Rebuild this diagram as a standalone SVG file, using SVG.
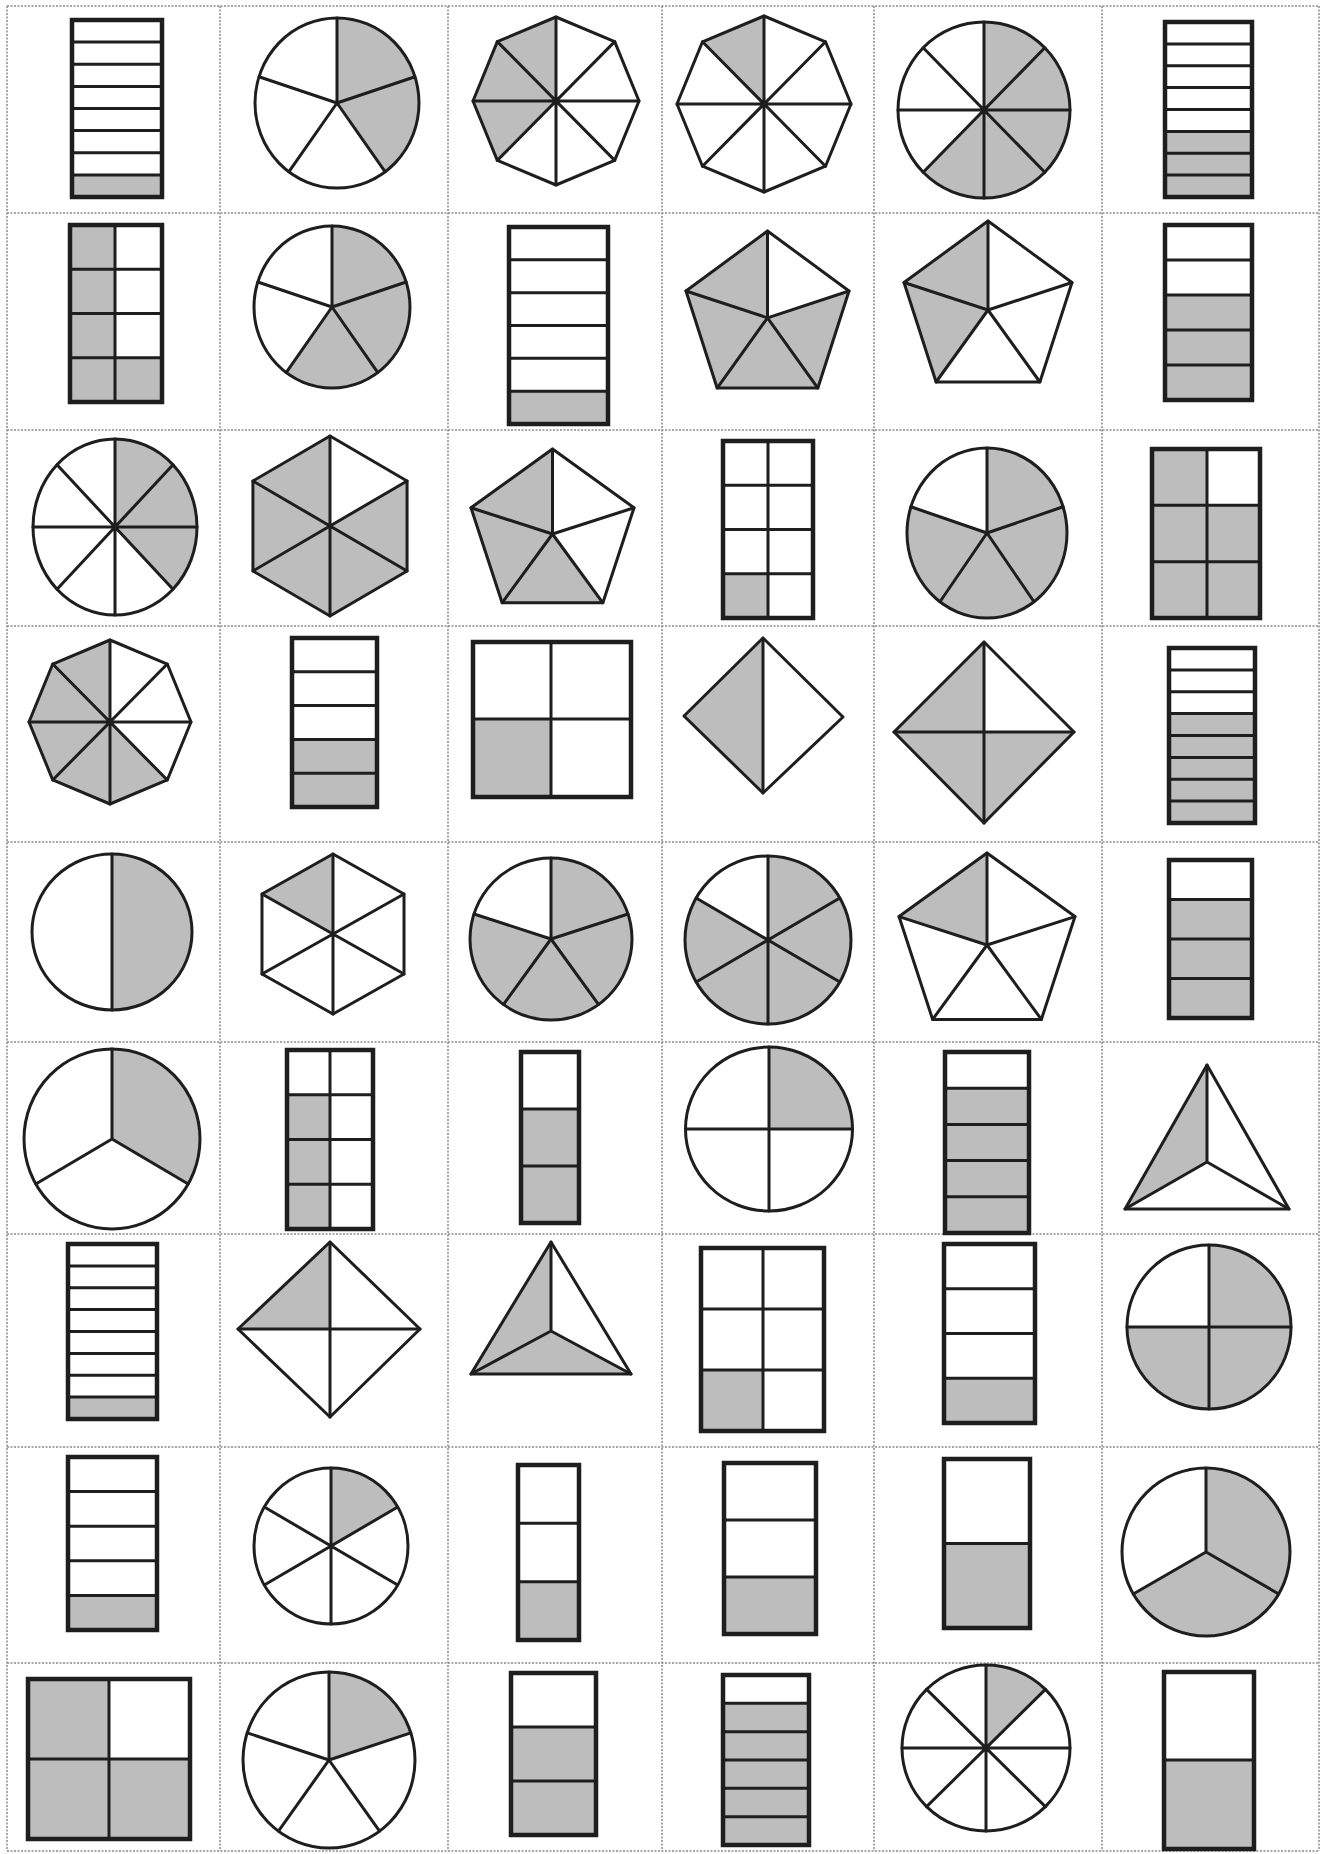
<svg xmlns="http://www.w3.org/2000/svg" xmlns:xlink="http://www.w3.org/1999/xlink" width="1324" height="1854" viewBox="0 0 1324 1854">
<style>
.g{fill:#bdbdbd;stroke:none}
.o{fill:none;stroke:#1e1e1e;stroke-width:3;stroke-linejoin:round;stroke-linecap:round}
.n{vector-effect:non-scaling-stroke}
.b{fill:none;stroke:#1e1e1e;stroke-width:4.5;stroke-linejoin:miter}
.grid{fill:none;stroke:#8c8c8c;stroke-width:1.5;stroke-dasharray:2 1.5}
</style>
<defs>
<circle id="cir" class="o n" r="100"/>
<path id="r8" class="o n" d="M0,-100V100M-100,0H100M-70.71,-70.71L70.71,70.71M70.71,-70.71L-70.71,70.71"/>
<path id="r5" class="o n" d="M0,0V-100M0,0L95.11,-30.9M0,0L58.78,80.9M0,0L-58.78,80.9M0,0L-95.11,-30.9"/>
<path id="r6" class="o n" d="M0,-100V100M-86.6,-50L86.6,50M86.6,-50L-86.6,50"/>
<path id="r3" class="o n" d="M0,0V-100M0,0L86.6,50M0,0L-86.6,50"/>
<path id="r4" class="o n" d="M0,-100V100M-100,0H100"/>
<polygon id="pen" class="o n" points="0,-100 95.11,-30.9 58.78,80.9 -58.78,80.9 -95.11,-30.9"/>
<polygon id="hex" class="o n" points="0,-100 86.6,-50 86.6,50 0,100 -86.6,50 -86.6,-50"/>
<polygon id="oct" class="o n" points="0,-100 70.71,-70.71 100,0 70.71,70.71 0,100 -70.71,70.71 -100,0 -70.71,-70.71"/>
</defs>
<rect width="1324" height="1854" fill="#ffffff"/>
<g id="grid" class="grid">
<path d="M7,6V1851M220,6V1851M448,6V1851M662,6V1851M874,6V1851M1102,6V1851M1319,6V1851"/>
<path d="M7,6H1319M7,213H1319M7,430H1319M7,626H1319M7,842H1319M7,1042H1319M7,1234H1319M7,1447H1319M7,1663H1319M7,1851H1319"/>
</g>

<!-- Row 1 -->
<g id="c11">
<rect class="g" x="72" y="174.9" width="90" height="22.1"/>
<path class="o" d="M72,42.1H162M72,64.3H162M72,86.4H162M72,108.5H162M72,130.6H162M72,152.8H162M72,174.9H162"/>
<rect class="b" x="72" y="20" width="90" height="177"/>
</g>
<g id="c12" transform="translate(337,103) scale(0.82,0.85)">
<path class="g" d="M0,0V-100A100,100 0 0 1 58.78,80.9Z"/>
<use href="#cir"/><use href="#r5"/>
</g>
<g id="c13" transform="translate(556,101) scale(0.83,0.84)">
<polygon class="g" points="0,0 0,-100 -70.71,-70.71 -100,0 -70.71,70.71"/>
<use href="#oct"/><use href="#r8"/>
</g>
<g id="c14" transform="translate(764,104) scale(0.87,0.88)">
<polygon class="g" points="0,0 0,-100 -70.71,-70.71"/>
<use href="#oct"/><use href="#r8"/>
</g>
<g id="c15" transform="translate(984,110) scale(0.86,0.88)">
<path class="g" d="M0,0V-100A100,100 0 1 1 -70.71,70.71Z"/>
<use href="#cir"/><use href="#r8"/>
</g>
<g id="c16">
<rect class="g" x="1165" y="131.4" width="87" height="65.6"/>
<path class="o" d="M1165,43.9H1252M1165,65.75H1252M1165,87.6H1252M1165,109.5H1252M1165,131.4H1252M1165,153.25H1252M1165,175.1H1252"/>
<rect class="b" x="1165" y="22" width="87" height="175"/>
</g>

<!-- Row 2 -->
<g id="c21">
<rect class="g" x="70" y="225" width="45" height="177"/>
<rect class="g" x="115" y="357.75" width="47" height="44.25"/>
<path class="o" d="M115,225V402M70,269.25H162M70,313.5H162M70,357.75H162"/>
<rect class="b" x="70" y="225" width="92" height="177"/>
</g>
<g id="c22" transform="translate(332,307) scale(0.78,0.81)">
<path class="g" d="M0,0V-100A100,100 0 1 1 -58.78,80.9Z"/>
<use href="#cir"/><use href="#r5"/>
</g>
<g id="c23">
<rect class="g" x="509" y="391.2" width="99" height="32.8"/>
<path class="o" d="M509,259.8H608M509,292.7H608M509,325.5H608M509,358.3H608M509,391.2H608"/>
<rect class="b" x="509" y="227" width="99" height="197"/>
</g>
<g id="c24" transform="translate(767.5,317.8) scale(0.857,0.868)">
<polygon class="g" points="0,0 95.11,-30.9 58.78,80.9 -58.78,80.9 -95.11,-30.9 0,-100"/>
<use href="#pen"/><use href="#r5"/>
</g>
<g id="c25" transform="translate(988,310) scale(0.883,0.89)">
<polygon class="g" points="0,0 0,-100 -95.11,-30.9 -58.78,80.9"/>
<use href="#pen"/><use href="#r5"/>
</g>
<g id="c26">
<rect class="g" x="1165" y="295" width="87" height="105"/>
<path class="o" d="M1165,260H1252M1165,295H1252M1165,330H1252M1165,365H1252"/>
<rect class="b" x="1165" y="225" width="87" height="175"/>
</g>

<!-- Row 3 -->
<g id="c31" transform="translate(115,527) scale(0.82,0.88)">
<path class="g" d="M0,0V-100A100,100 0 0 1 70.71,70.71Z"/>
<use href="#cir"/><use href="#r8"/>
</g>
<g id="c32" transform="translate(330,526) scale(0.89,0.9)">
<polygon class="g" points="0,0 86.6,-50 86.6,50 0,100 -86.6,50 -86.6,-50 0,-100"/>
<use href="#hex"/><use href="#r6"/>
</g>
<g id="c33" transform="translate(552.5,534) scale(0.857,0.85)">
<polygon class="g" points="0,0 58.78,80.9 -58.78,80.9 -95.11,-30.9 0,-100"/>
<use href="#pen"/><use href="#r5"/>
</g>
<g id="c34">
<rect class="g" x="723" y="573.75" width="45" height="44.25"/>
<path class="o" d="M768,441V618M723,485.25H813M723,529.5H813M723,573.75H813"/>
<rect class="b" x="723" y="441" width="90" height="177"/>
</g>
<g id="c35" transform="translate(987,533) scale(0.8,0.85)">
<path class="g" d="M0,0V-100A100,100 0 1 1 -95.11,-30.9Z"/>
<use href="#cir"/><use href="#r5"/>
</g>
<g id="c36">
<rect class="g" x="1152" y="449" width="55" height="169"/>
<rect class="g" x="1207" y="505.3" width="53" height="112.7"/>
<path class="o" d="M1207,449V618M1152,505.3H1260M1152,561.7H1260"/>
<rect class="b" x="1152" y="449" width="108" height="169"/>
</g>

<!-- Row 4 -->
<g id="c41" transform="translate(110,722) scale(0.81,0.82)">
<polygon class="g" points="0,0 70.71,70.71 0,100 -70.71,70.71 -100,0 -70.71,-70.71 0,-100"/>
<use href="#oct"/><use href="#r8"/>
</g>
<g id="c42">
<rect class="g" x="292" y="739.4" width="85" height="67.6"/>
<path class="o" d="M292,671.8H377M292,705.6H377M292,739.4H377M292,773.2H377"/>
<rect class="b" x="292" y="638" width="85" height="169"/>
</g>
<g id="c43">
<rect class="g" x="473" y="719" width="78" height="78"/>
<path class="o" d="M551,642V797M473,719H631"/>
<rect class="b" x="473" y="642" width="158" height="155"/>
</g>
<g id="c44">
<polygon class="g" points="763,638 684,716 763,793"/>
<polygon class="o" points="763,638 843,717 763,793 684,716"/>
<path class="o" d="M763,638V793"/>
</g>
<g id="c45">
<polygon class="g" points="984,642 894,732 984,823 1074,732 984,732"/>
<polygon class="o" points="984,642 1074,732 984,823 894,732"/>
<path class="o" d="M984,642V823M894,732H1074"/>
</g>
<g id="c46">
<rect class="g" x="1169" y="713.6" width="86" height="109.4"/>
<path class="o" d="M1169,669.9H1255M1169,691.75H1255M1169,713.6H1255M1169,735.5H1255M1169,757.4H1255M1169,779.25H1255M1169,801.1H1255"/>
<rect class="b" x="1169" y="648" width="86" height="175"/>
</g>

<!-- Row 5 -->
<g id="c51" transform="translate(112,932) scale(0.8,0.78)">
<path class="g" d="M0,-100A100,100 0 0 1 0,100Z"/>
<use href="#cir"/>
<path class="o n" d="M0,-100V100"/>
</g>
<g id="c52" transform="translate(333,934) scale(0.82,0.8)">
<polygon class="g" points="0,0 0,-100 -86.6,-50"/>
<use href="#hex"/><use href="#r6"/>
</g>
<g id="c53" transform="translate(551,939) scale(0.81,0.81)">
<path class="g" d="M0,0V-100A100,100 0 1 1 -95.11,-30.9Z"/>
<use href="#cir"/><use href="#r5"/>
</g>
<g id="c54" transform="translate(768,940) scale(0.83,0.84)">
<path class="g" d="M0,0V-100A100,100 0 1 1 -86.6,-50Z"/>
<use href="#cir"/><use href="#r6"/>
</g>
<g id="c55" transform="translate(987,945) scale(0.925,0.92)">
<polygon class="g" points="0,0 0,-100 -95.11,-30.9"/>
<use href="#pen"/><use href="#r5"/>
</g>
<g id="c56">
<rect class="g" x="1169" y="899.5" width="83" height="118.5"/>
<path class="o" d="M1169,899.5H1252M1169,939H1252M1169,978.5H1252"/>
<rect class="b" x="1169" y="860" width="83" height="158"/>
</g>

<!-- Row 6 -->
<g id="c61" transform="translate(112,1139) scale(0.88,0.9)">
<path class="g" d="M0,0V-100A100,100 0 0 1 86.6,50Z"/>
<use href="#cir"/><use href="#r3"/>
</g>
<g id="c62">
<rect class="g" x="287" y="1094.75" width="43" height="134.25"/>
<path class="o" d="M330,1050V1229M287,1094.75H373M287,1139.5H373M287,1184.25H373"/>
<rect class="b" x="287" y="1050" width="86" height="179"/>
</g>
<g id="c63">
<rect class="g" x="521" y="1109" width="58" height="114"/>
<path class="o" d="M521,1109H579M521,1166H579"/>
<rect class="b" x="521" y="1052" width="58" height="171"/>
</g>
<g id="c64" transform="translate(769,1129) scale(0.835,0.82)">
<path class="g" d="M0,0V-100A100,100 0 0 1 100,0Z"/>
<use href="#cir"/><use href="#r4"/>
</g>
<g id="c65">
<rect class="g" x="945" y="1088.2" width="84" height="144.8"/>
<path class="o" d="M945,1088.2H1029M945,1124.4H1029M945,1160.6H1029M945,1196.8H1029"/>
<rect class="b" x="945" y="1052" width="84" height="181"/>
</g>
<g id="c66">
<polygon class="g" points="1207,1065 1125,1209 1207,1162"/>
<polygon class="o" points="1207,1065 1289,1209 1125,1209"/>
<path class="o" d="M1207,1162V1065M1207,1162L1125,1209M1207,1162L1289,1209"/>
</g>

<!-- Row 7 -->
<g id="c71">
<rect class="g" x="68" y="1397.1" width="89" height="21.9"/>
<path class="o" d="M68,1265.9H157M68,1287.75H157M68,1309.6H157M68,1331.5H157M68,1353.4H157M68,1375.25H157M68,1397.1H157"/>
<rect class="b" x="68" y="1244" width="89" height="175"/>
</g>
<g id="c72">
<polygon class="g" points="330,1242 238,1329 330,1329"/>
<polygon class="o" points="330,1242 420,1329 330,1417 238,1329"/>
<path class="o" d="M330,1242V1417M238,1329H420"/>
</g>
<g id="c73">
<polygon class="g" points="551,1242 471,1374 631,1374 551,1331"/>
<polygon class="o" points="551,1242 631,1374 471,1374"/>
<path class="o" d="M551,1331V1242M551,1331L471,1374M551,1331L631,1374"/>
</g>
<g id="c74">
<rect class="g" x="701" y="1370" width="62" height="61"/>
<path class="o" d="M763,1248V1431M701,1309H824M701,1370H824"/>
<rect class="b" x="701" y="1248" width="123" height="183"/>
</g>
<g id="c75">
<rect class="g" x="944" y="1378.25" width="91" height="44.75"/>
<path class="o" d="M944,1288.75H1035M944,1333.5H1035M944,1378.25H1035"/>
<rect class="b" x="944" y="1244" width="91" height="179"/>
</g>
<g id="c76" transform="translate(1209,1327) scale(0.82,0.82)">
<path class="g" d="M0,0V-100A100,100 0 1 1 -100,0Z"/>
<use href="#cir"/><use href="#r4"/>
</g>

<!-- Row 8 -->
<g id="c81">
<rect class="g" x="68" y="1595.4" width="89" height="34.6"/>
<path class="o" d="M68,1491.6H157M68,1526.2H157M68,1560.8H157M68,1595.4H157"/>
<rect class="b" x="68" y="1457" width="89" height="173"/>
</g>
<g id="c82" transform="translate(331,1546) scale(0.77,0.78)">
<path class="g" d="M0,0V-100A100,100 0 0 1 86.6,-50Z"/>
<use href="#cir"/><use href="#r6"/>
</g>
<g id="c83">
<rect class="g" x="518" y="1581.7" width="61" height="58.3"/>
<path class="o" d="M518,1523.3H579M518,1581.7H579"/>
<rect class="b" x="518" y="1465" width="61" height="175"/>
</g>
<g id="c84">
<rect class="g" x="724" y="1577" width="92" height="57"/>
<path class="o" d="M724,1520H816M724,1577H816"/>
<rect class="b" x="724" y="1463" width="92" height="171"/>
</g>
<g id="c85">
<rect class="g" x="944" y="1543.5" width="86" height="84.5"/>
<path class="o" d="M944,1543.5H1030"/>
<rect class="b" x="944" y="1459" width="86" height="169"/>
</g>
<g id="c86" transform="translate(1206,1552) scale(0.84,0.84)">
<path class="g" d="M0,0V-100A100,100 0 1 1 -86.6,50Z"/>
<use href="#cir"/><use href="#r3"/>
</g>

<!-- Row 9 -->
<g id="c91">
<rect class="g" x="28" y="1679" width="81" height="160"/>
<rect class="g" x="109" y="1759" width="81" height="80"/>
<path class="o" d="M109,1679V1839M28,1759H190"/>
<rect class="b" x="28" y="1679" width="162" height="160"/>
</g>
<g id="c92" transform="translate(329,1760) scale(0.86,0.88)">
<path class="g" d="M0,0V-100A100,100 0 0 1 95.11,-30.9Z"/>
<use href="#cir"/><use href="#r5"/>
</g>
<g id="c93">
<rect class="g" x="511" y="1727" width="85" height="108"/>
<path class="o" d="M511,1727H596M511,1781H596"/>
<rect class="b" x="511" y="1673" width="85" height="162"/>
</g>
<g id="c94">
<rect class="g" x="723" y="1703.3" width="86" height="141.7"/>
<path class="o" d="M723,1703.3H809M723,1731.7H809M723,1760H809M723,1788.3H809M723,1816.7H809"/>
<rect class="b" x="723" y="1675" width="86" height="170"/>
</g>
<g id="c95" transform="translate(986,1748) scale(0.84,0.83)">
<path class="g" d="M0,0V-100A100,100 0 0 1 70.71,-70.71Z"/>
<use href="#cir"/><use href="#r8"/>
</g>
<g id="c96">
<rect class="g" x="1164" y="1760" width="90" height="89"/>
<path class="o" d="M1164,1760H1254"/>
<rect class="b" x="1164" y="1672" width="90" height="177"/>
</g>
</svg>
